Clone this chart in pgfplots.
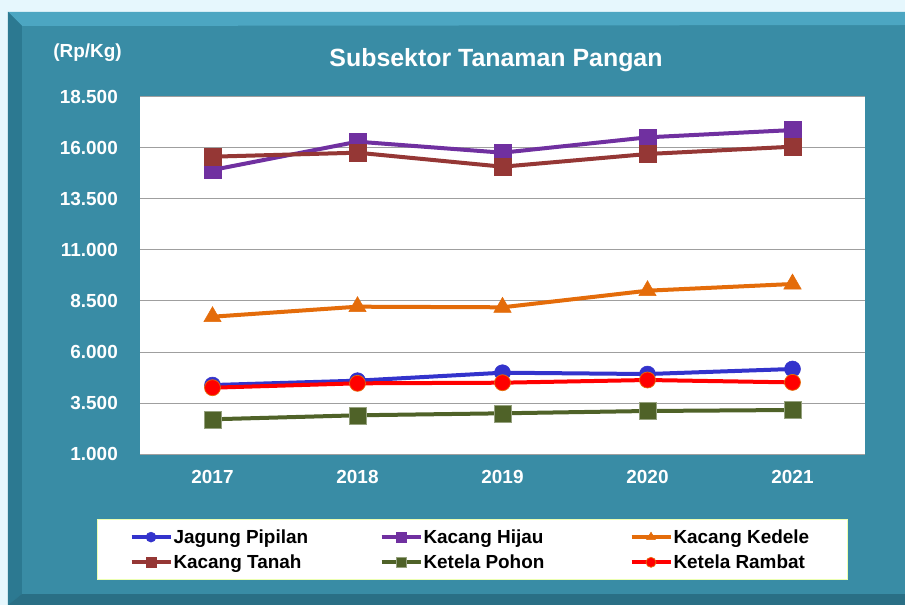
\documentclass[border=0pt]{standalone}
\usepackage{pgfplots}
\pgfplotsset{compat=1.18}
\usepackage{fontspec}
\setmainfont{Liberation Sans}
\definecolor{bgteal}{HTML}{398CA5}
\definecolor{bevtop}{HTML}{4CA6C2}
\definecolor{bevleft}{HTML}{2C7991}
\definecolor{bevbot}{HTML}{2A6F85}
\definecolor{cjagung}{HTML}{3333CC}
\definecolor{chijau}{HTML}{7030A0}
\definecolor{ckedele}{HTML}{E46C0A}
\definecolor{ctanah}{HTML}{953735}
\definecolor{cpohon}{HTML}{4F6228}
\definecolor{crambat}{HTML}{FF0000}

\newcommand{\lbl}{\fontsize{19}{21}\selectfont\bfseries}

\begin{document}
\begin{tikzpicture}
% frame (1bp = 1px, origin at the plot area's lower left)
\fill[white!90!cyan] (-140bp,454bp) rectangle (765bp,-151bp);
\fill[bgteal] (-132bp,442bp) rectangle (765bp,-151bp);
\fill[bevtop] (-132bp,442bp) -- (765bp,442bp) -- (765bp,429bp) -- (-118bp,428bp) -- cycle;
\fill[bevleft] (-132bp,442bp) -- (-118bp,428bp) -- (-118bp,-140bp) -- (-132bp,-151bp) -- cycle;
\fill[bevbot] (-132bp,-151bp) -- (-118bp,-140bp) -- (765bp,-140bp) -- (765bp,-151bp) -- cycle;

\begin{axis}[
  at={(0,0)}, anchor=south west,
  scale only axis, width=725bp, height=357bp,
  xmin=-0.5, xmax=4.5, ymin=1000, ymax=18500,
  xtick={0,1,2,3,4},
  xticklabels={2017,2018,2019,2020,2021},
  ytick={1000,3500,...,18500},
  scaled y ticks=false,
  axis line style={draw=none},
  major tick length=0pt,
  axis background/.style={fill=white},
  ymajorgrids, grid style={gray!75, line width=1bp},
  tick label style={font=\lbl, text=white},
  /pgf/number format/.cd, fixed, precision=0, 1000 sep={.}, assume math mode=true,
  /pgfplots/.cd,
  yticklabel style={anchor=east, inner sep=0pt, xshift=-22bp},
  xticklabel style={anchor=north, inner sep=0pt, yshift=-16bp},
  clip=false,
  every axis plot/.append style={line width=4bp},
  legend columns=3,
  legend style={at={(-0.0593,-0.1821)}, anchor=north west,
    draw=green!25!yellow!30!white, line width=1bp, fill=white,
    inner xsep=32bp, inner ysep=9bp, row sep=8bp,
    font=\lbl, text=black,
    nodes={inner sep=1bp},
    /tikz/every even column/.append style={column sep=64bp}},
  legend image code/.code={
    \draw[#1, mark repeat=2, mark phase=2, mark size=5bp]
      plot coordinates {(0bp,0bp) (19.5bp,0bp) (39bp,0bp)};},
]
\addplot[cjagung, mark=*, mark size=8bp, mark options={line width=0.5bp, fill=cjagung}]
  coordinates {(0,4380) (1,4595) (2,4985) (3,4920) (4,5167)};
\addlegendentry{\makebox[141bp][l]{Jagung Pipilan}}
\addplot[chijau, mark=square*, mark size=8.5bp, mark options={line width=0.5bp, fill=chijau}]
  coordinates {(0,14922) (1,16310) (2,15770) (3,16523) (4,16880)};
\addlegendentry{\makebox[141bp][l]{Kacang Hijau}}
\addplot[ckedele, mark=triangle*, mark size=10bp, mark options={line width=0.5bp, fill=ckedele}]
  coordinates {(0,7730) (1,8221) (2,8191) (3,9005) (4,9333)};
\addlegendentry{\makebox[141bp][l]{Kacang Kedele}}
\addplot[ctanah, mark=square*, mark size=8.5bp, mark options={line width=0.5bp, fill=ctanah}]
  coordinates {(0,15575) (1,15770) (2,15083) (3,15706) (4,16064)};
\addlegendentry{\makebox[141bp][l]{Kacang Tanah}}
\addplot[cpohon, mark=square*, mark size=8.5bp, mark options={line width=0.5bp, fill=cpohon, draw=cpohon!60!white}]
  coordinates {(0,2701) (1,2897) (2,2995) (3,3108) (4,3157)};
\addlegendentry{\makebox[141bp][l]{Ketela Pohon}}
\addplot[crambat, mark=*, mark size=8bp, mark options={line width=0.7bp, fill=crambat, draw=ckedele}]
  coordinates {(0,4250) (1,4465) (2,4495) (3,4627) (4,4510)};
\addlegendentry{\makebox[141bp][l]{Ketela Rambat}}
\end{axis}

\node[anchor=base, text=white, font=\fontsize{25}{28}\selectfont\bfseries] at (356bp,387bp) {Subsektor Tanaman Pangan};
\node[anchor=base, text=white, font=\lbl] at (-52.5bp,396bp) {(Rp/Kg)};
\end{tikzpicture}
\end{document}
